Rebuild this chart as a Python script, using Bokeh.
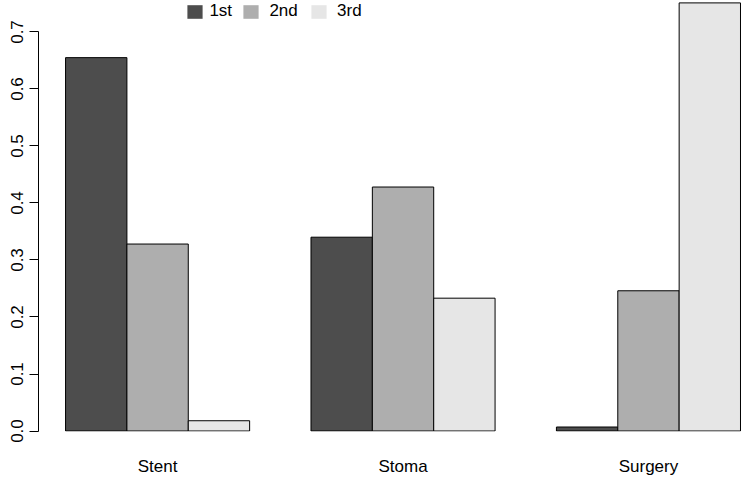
from bokeh.plotting import figure
from bokeh.models import Range1d, FixedTicker, Legend, LegendItem, ColumnDataSource
from bokeh.embed import file_html
from bokeh.resources import INLINE

# ---- data ----
categories = ["Stent", "Stoma", "Surgery"]
series = ["1st", "2nd", "3rd"]
first = [0.655, 0.340, 0.007]
second = [0.328, 0.428, 0.246]
third = [0.018, 0.233, 0.751]
colors = ["#4D4D4D", "#AEAEAE", "#E6E6E6"]
y_ticks = [0.0, 0.1, 0.2, 0.3, 0.4, 0.5, 0.6, 0.7]
y_tick_labels = ["0.0", "0.1", "0.2", "0.3", "0.4", "0.5", "0.6", "0.7"]

FONT = "Liberation Sans"
FS = "17px"

# R barplot(beside=TRUE) layout: bar width 1, space 1 before each group
n_series = len(series)
group_start = [1 + i * (n_series + 1) for i in range(len(categories))]
centers = [s + n_series / 2 for s in group_start]

p = figure(width=741, height=478, output_backend="svg", toolbar_location=None,
           x_range=Range1d(0.559, 12.0163), y_range=Range1d(-0.00087, 0.75522),
           min_border_left=38, min_border_right=0, min_border_top=0, min_border_bottom=44)
p.outline_line_color = None
p.xgrid.visible = False
p.ygrid.visible = False
p.background_fill_color = "white"
p.border_fill_color = "white"

values = [first, second, third]
for j, (vals, col) in enumerate(zip(values, colors)):
    src = ColumnDataSource(dict(x=[s + j + 0.5 for s in group_start], top=vals))
    p.vbar(x="x", top="top", bottom=0, width=1, source=src,
           fill_color=col, line_color="black", line_width=1)

# y axis
ya = p.yaxis[0]
ya.ticker = FixedTicker(ticks=y_ticks)
ya.major_label_overrides = dict(zip(y_ticks, y_tick_labels))
ya.bounds = (0, 0.7)
ya.major_label_orientation = "vertical"
ya.major_tick_out = 9
ya.major_tick_in = 0
ya.minor_tick_line_color = None
ya.axis_line_color = "black"
ya.major_tick_line_color = "black"
ya.major_label_text_font = FONT
ya.major_label_text_font_size = FS
ya.major_label_text_color = "black"
ya.major_label_standoff = 6

# x axis (category labels only)
xa = p.xaxis[0]
xa.ticker = FixedTicker(ticks=centers)
xa.major_label_overrides = dict(zip(centers, categories))
xa.axis_line_color = None
xa.major_tick_line_color = None
xa.minor_tick_line_color = None
xa.major_tick_out = 0
xa.major_label_standoff = 25
xa.major_label_text_font = FONT
xa.major_label_text_font_size = FS
xa.major_label_text_color = "black"

# legend: borderless squares, one legend per item to match spacing
# dummy renderers placed outside the visible range, only used for legend glyphs
dummies = [p.vbar(x=[-100], top=[0.1], width=1, fill_color=c, line_color=None) for c in colors]
leg_x = [147.4, 203.4, 271.1]
leg_standoff = [5, 9, 9]
for lab, r, lx, so in zip(series, dummies, leg_x, leg_standoff):
    lg = Legend(items=[LegendItem(label=lab, renderers=[r])], location=(lx, 410),
                orientation="horizontal", padding=0, margin=0, spacing=0,
                glyph_width=19, glyph_height=17, label_standoff=so, label_height=17,
                border_line_alpha=0, background_fill_alpha=0,
                label_text_font=FONT, label_text_font_size=FS, label_text_color="black")
    p.add_layout(lg)

open("out.html", "w").write(file_html(p, INLINE))
